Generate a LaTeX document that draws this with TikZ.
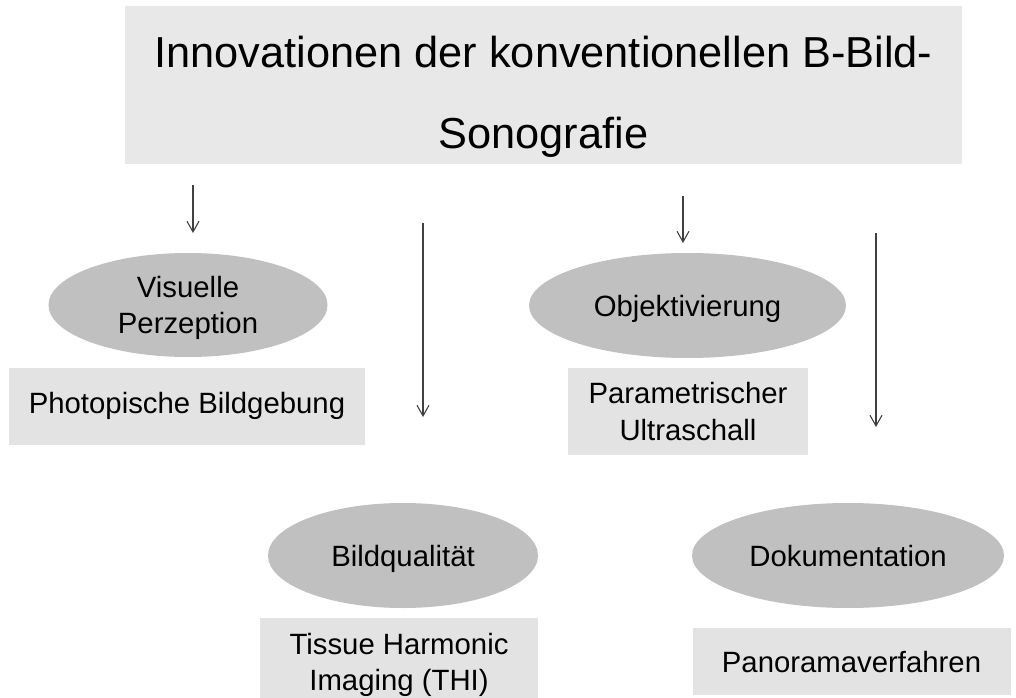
\documentclass[tikz,border=0pt]{standalone}
\usepackage{fontspec}
\setmainfont{Liberation Sans}
\usetikzlibrary{shapes.geometric,arrows.meta}
\definecolor{titlegray}{HTML}{E8E8E8}
\definecolor{boxgray}{HTML}{E3E3E3}
\definecolor{ellgray}{HTML}{C0C0C0}
\definecolor{arrowgray}{HTML}{404040}
\begin{document}
\begin{tikzpicture}[x=0.75pt,y=-0.75pt,
  titlebox/.style={rectangle,fill=titlegray,inner sep=0pt,minimum width=627.75pt,minimum height=118.5pt},
  titletext/.style={inner sep=0pt,anchor=base,font=\fontsize{32.5}{39}\selectfont},
  ellnode/.style={ellipse,fill=ellgray,inner sep=0pt,align=center,font=\fontsize{22}{27.5}\selectfont},
  oneline/.style={text height=20pt,text depth=3pt},
  graybox/.style={rectangle,fill=boxgray,inner sep=0pt,align=center,font=\fontsize{22}{27.5}\selectfont},
  plaintext/.style={inner sep=0pt,align=center,font=\fontsize{22}{27.5}\selectfont},
  arr/.style={draw=arrowgray,line width=0.8pt,-{Straight Barb[length=8pt,width=9pt,line width=0.8pt]}}
]
\useasboundingbox[fill=white] (0,0) rectangle (1016,698);

% title
\node[titlebox] (title) at (543.5,85) {};
\node[titletext] (tline1) at (543.5,68) {Innovationen der konventionellen B-Bild-};
\node[titletext] (tline2) at (543.5,149) {Sonografie};

% ellipses
\node[ellnode,minimum width=209.25pt,minimum height=78pt] (vis) at (188,305) {};
\node[plaintext] (vistext) at (188,308) {Visuelle\\Perzeption};
\node[ellnode,oneline,minimum width=237.75pt,minimum height=78.75pt] (obj) at (687.5,305.5) {Objektivierung};
\node[ellnode,oneline,minimum width=202.5pt,minimum height=78.75pt] (bq) at (403,555.5) {Bildqualität};
\node[ellnode,oneline,minimum width=234pt,minimum height=78.75pt] (dok) at (848,555.5) {Dokumentation};

% boxes
\node[graybox,minimum width=267pt,minimum height=57.75pt] (photo) at (187,406.5) {};
\node[plaintext,anchor=base] (phototext) at (187,413) {Photopische Bildgebung};
\node[graybox,minimum width=180pt,minimum height=65.25pt] (param) at (688,411.5) {Parametrischer\\Ultraschall};
\node[graybox,minimum width=208.5pt,minimum height=60pt] (thi) at (399,658) {};
\node[plaintext] (thitext) at (399,665) {Tissue Harmonic\\Imaging (THI)};
\node[graybox,minimum width=238.5pt,minimum height=50.25pt] (pano) at (851.5,661.5) {};
\node[plaintext,anchor=base] (panotext) at (851.5,672) {Panoramaverfahren};

% arrows
\coordinate (a1s) at (193,185);
\coordinate (a1e) at (193,233);
\coordinate (a2s) at (423,223);
\coordinate (a2e) at (423,417);
\coordinate (a3s) at (683,196);
\coordinate (a3e) at (683,243);
\coordinate (a4s) at (876,233);
\coordinate (a4e) at (876,427);
\draw[arr] (a1s) -- (a1e);
\draw[arr] (a2s) -- (a2e);
\draw[arr] (a3s) -- (a3e);
\draw[arr] (a4s) -- (a4e);
\end{tikzpicture}
\end{document}
